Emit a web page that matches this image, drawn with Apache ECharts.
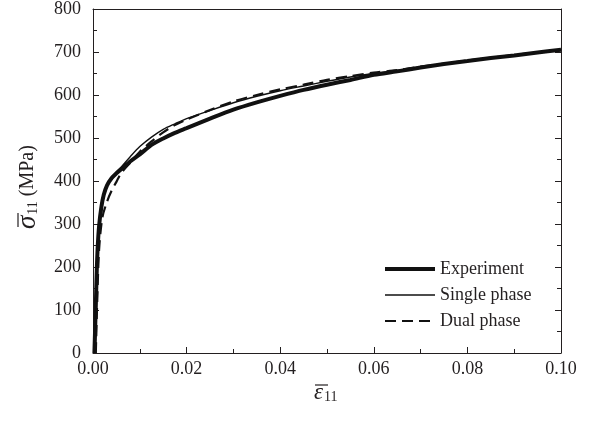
<!DOCTYPE html>
<html>
<head>
<meta charset="utf-8">
<script src="https://cdn.jsdelivr.net/npm/echarts@6/dist/echarts.min.js"></script>
<style>html,body{margin:0;padding:0;background:#fff;}#c{width:605px;height:422px;}</style>
</head>
<body>
<div id="c"></div>
<script>
// Data
const expStrain = [0.0003,0.0006,0.0008,0.001,0.0013,0.0018,0.0023,0.003,0.004,0.005,0.0065,0.008,0.01,0.0125,0.015,0.0175,0.02,0.025,0.03,0.035,0.04,0.045,0.05,0.055,0.06,0.065,0.07,0.075,0.08,0.085,0.09,0.095,0.1];
const expStress = [0,110,190,245,295,340,368,390,407,418,432,446,462,484,499,512,523,545,566,583,598,612,624,635,647,655,664,672,679,686,692,699,705];

const singleStrain = [0.0005,0.0008,0.001,0.0015,0.002,0.003,0.004,0.006,0.008,0.01,0.0125,0.015,0.0175,0.02,0.025,0.03,0.035,0.04,0.045,0.05,0.055,0.06,0.065,0.07,0.075,0.08,0.09,0.1];
const singleStress = [0,170,250,325,360,392,408,432,457,480,502,520,533,545,564,582,597,610,621,632,642,650,657,665,672,680,693,705];

const dualStrain = [0.0006,0.0009,0.0013,0.002,0.003,0.004,0.005,0.006,0.008,0.01,0.0125,0.015,0.0175,0.02,0.025,0.03,0.035,0.04,0.045,0.05,0.055,0.06,0.065,0.07,0.075,0.08,0.09,0.1];
const dualStress = [0,120,240,315,352,378,398,418,443,468,492,513,530,543,565,585,600,613,624,635,644,652,658,666,673,680,693,705];

const seriesNames = ['Experiment','Single phase','Dual phase'];
const xTicks = [0,0.02,0.04,0.06,0.08,0.10];
const yTicks = [0,100,200,300,400,500,600,700,800];

const pairs = (xs, ys) => xs.map((x, i) => [x, ys[i]]);
const serif = 'Liberation Serif, Times New Roman, serif';
const ink = '#231f20';
const lineInk = '#111';
const widths = [4, 1.4, 2.2];
const dashes = ['solid', 'solid', [11, 6]];

const chart = echarts.init(document.getElementById('c'), null, {renderer: 'canvas'});
const axisCommon = {
  type: 'value',
  axisLine: {show: true, onZero: false, lineStyle: {color: ink, width: 1}},
  splitLine: {show: false}
};
const tickStyle = {
  axisTick: {show: true, inside: true, length: 6, lineStyle: {color: ink}},
  minorTick: {show: true, splitNumber: 2, length: 4, lineStyle: {color: ink}}
};
chart.setOption({
  animation: false,
  backgroundColor: '#fff',
  grid: {left: 93, right: 44, top: 8, bottom: 69},
  xAxis: [
    Object.assign({}, axisCommon, tickStyle, {
      position: 'bottom', min: xTicks[0], max: xTicks[xTicks.length-1], interval: 0.02,
      axisLabel: {margin: 7, color: ink, fontFamily: serif, fontSize: 18, formatter: v => v.toFixed(2)}
    }),
    Object.assign({}, axisCommon, {
      position: 'top', min: 0, max: 0.1, axisTick: {show: false}, axisLabel: {show: false}
    })
  ],
  yAxis: [
    Object.assign({}, axisCommon, tickStyle, {
      position: 'left', min: yTicks[0], max: yTicks[yTicks.length-1], interval: 100,
      axisLabel: {margin: 12, color: ink, fontFamily: serif, fontSize: 18}
    }),
    Object.assign({}, axisCommon, tickStyle, {
      position: 'right', min: 0, max: 800, interval: 100,
      axisLabel: {show: false}
    })
  ],
  legend: {
    orient: 'vertical', left: 383, top: 260, padding: 0, itemWidth: 50, itemHeight: 14, itemGap: 8,
    itemStyle: {opacity: 0},
    textStyle: {fontFamily: serif, fontSize: 18, color: ink},
    data: seriesNames.map((n, i) => ({name: n, lineStyle: {width: widths[i], type: dashes[i], color: lineInk}}))
  },
  series: seriesNames.map((n, i) => ({
    name: n, type: 'line',
    data: [pairs(expStrain, expStress), pairs(singleStrain, singleStress), pairs(dualStrain, dualStress)][i],
    showSymbol: false, symbol: 'none', smooth: 0.3,
    lineStyle: {color: lineInk, width: widths[i], type: dashes[i]}, itemStyle: {color: lineInk}
  })),
  graphic: [
    {type: 'group', x: 314, y: 393, children: [
      {type: 'text', x: 0, y: 0, style: {
        text: '{s|\u03b5}{b|11}', verticalAlign: 'middle', align: 'left', rich: {
          s: {fontFamily: serif, fontStyle: 'italic', fontSize: 23, fill: ink},
          b: {fontFamily: serif, fontSize: 14, fill: ink, padding: [9,0,0,1]}
        }}},
      {type: 'line', shape: {x1: 1, y1: -8, x2: 14, y2: -8}, style: {stroke: ink, lineWidth: 1.2}}
    ]},
    {type: 'group', x: 28, y: 229, rotation: Math.PI/2, children: [
      {type: 'text', x: 0, y: 0, style: {
        text: '{s|\u03c3}{b|11}{n| (MPa)}', verticalAlign: 'middle', align: 'left', rich: {
          s: {fontFamily: serif, fontStyle: 'italic', fontSize: 27, fill: ink},
          b: {fontFamily: serif, fontSize: 14, fill: ink, padding: [10,0,0,1]},
          n: {fontFamily: serif, fontSize: 20, fill: ink}
        }}},
      {type: 'line', shape: {x1: 2, y1: -10, x2: 16, y2: -10}, style: {stroke: ink, lineWidth: 1.2}}
    ]}
  ]
});
</script>
</body>
</html>
